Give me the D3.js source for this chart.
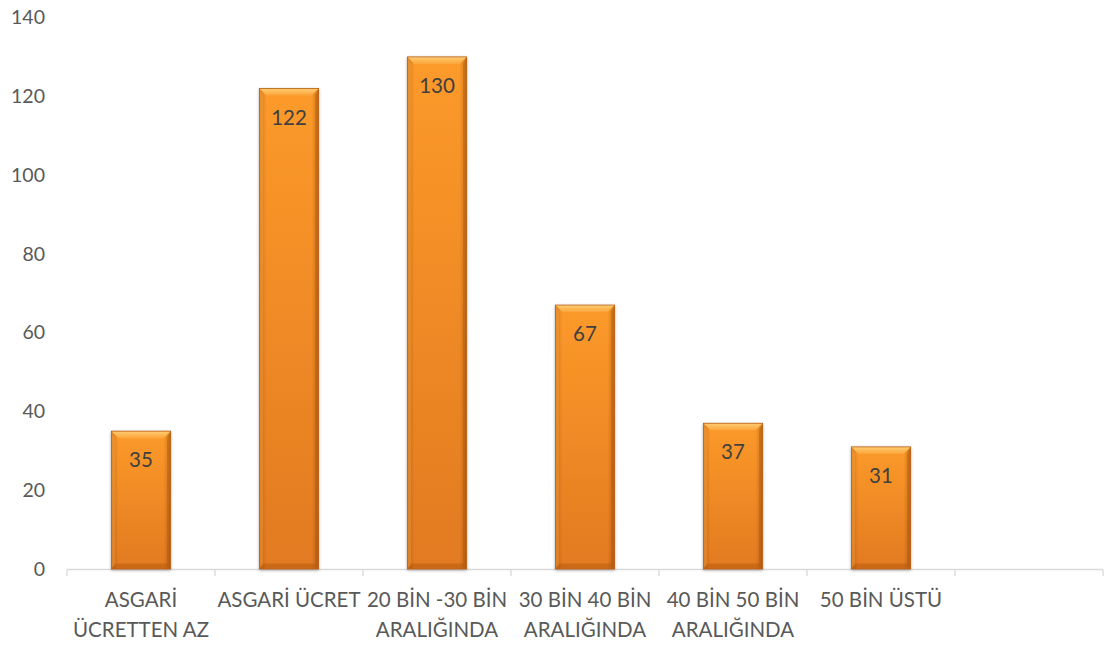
<!DOCTYPE html>
<html><head><meta charset="utf-8">
<script src="https://cdn.jsdelivr.net/npm/d3@7/dist/d3.min.js"></script>
<style>
html,body{margin:0;padding:0;background:#fff;}
svg{display:block;font-family:Lato,"Open Sans",sans-serif;}
</style></head>
<body>
<svg id="chart" width="1107" height="645"></svg>
<script>
const categories = [
  ["ASGARİ", "ÜCRETTEN AZ"],
  ["ASGARİ ÜCRET"],
  ["20 BİN -30 BİN", "ARALIĞINDA"],
  ["30 BİN 40 BİN", "ARALIĞINDA"],
  ["40 BİN 50 BİN", "ARALIĞINDA"],
  ["50 BİN ÜSTÜ"],
  [""]
];
const values = [35, 122, 130, 67, 37, 31, null];
const yTicks = [0, 20, 40, 60, 80, 100, 120, 140];

const svg = d3.select("#chart");
const x = d3.scaleBand().domain(d3.range(categories.length)).range([67, 1103]).padding(0);
const y = d3.scaleLinear().domain([0, 140]).range([569, 17.5]);

const defs = svg.append("defs");
const vg = defs.append("linearGradient").attr("id","vg").attr("x1",0).attr("y1",0).attr("x2",0).attr("y2",1);
vg.append("stop").attr("offset","0%").attr("stop-color","#FC9A2A");
vg.append("stop").attr("offset","100%").attr("stop-color","#E27A21");
const hg = defs.append("linearGradient").attr("id","hg").attr("x1",0).attr("y1",0).attr("x2",1).attr("y2",0);
hg.append("stop").attr("offset","0%").attr("stop-color","#8a3d00").attr("stop-opacity",0.35);
hg.append("stop").attr("offset","12%").attr("stop-color","#8a3d00").attr("stop-opacity",0.0);
hg.append("stop").attr("offset","88%").attr("stop-color","#8a3d00").attr("stop-opacity",0.0);
hg.append("stop").attr("offset","100%").attr("stop-color","#8a3d00").attr("stop-opacity",0.4);
const tg = defs.append("linearGradient").attr("id","tg").attr("x1",0).attr("y1",0).attr("x2",0).attr("y2",1);
tg.append("stop").attr("offset","0%").attr("stop-color","#FFCD72");
tg.append("stop").attr("offset","100%").attr("stop-color","#FCA53A");
const f = defs.append("filter").attr("id","sh").attr("x","-20%").attr("y","-5%").attr("width","140%").attr("height","110%");
f.append("feGaussianBlur").attr("in","SourceAlpha").attr("stdDeviation",1.5).attr("result","b");
f.append("feOffset").attr("in","b").attr("dx",0).attr("dy",1).attr("result","o");
f.append("feComponentTransfer").attr("in","o").attr("result","o2").append("feFuncA").attr("type","linear").attr("slope",0.35);
const m = f.append("feMerge"); m.append("feMergeNode").attr("in","o2"); m.append("feMergeNode").attr("in","SourceGraphic");

// axis line & ticks
const axisG = svg.append("g");
axisG.append("line").attr("x1",67).attr("x2",1103).attr("y1",569.5).attr("y2",569.5).attr("stroke","#D9D9D9").attr("stroke-width",1.3);
const tickXs = d3.range(categories.length + 1).map(i => i < categories.length ? x(i) : x(categories.length-1) + x.bandwidth());
axisG.selectAll("line.t").data(tickXs).join("line").attr("class","t")
  .attr("x1",d=>d).attr("x2",d=>d).attr("y1",569.5).attr("y2",576).attr("stroke","#D9D9D9").attr("stroke-width",1.3);

// y tick labels
svg.append("g").selectAll("text").data(yTicks).join("text")
  .attr("x",45).attr("y",d=>y(d)).attr("dy","0.35em").attr("text-anchor","end")
  .attr("fill","#595959").attr("font-size",19.5).text(d=>d);

// bars
const bw = x.bandwidth()*0.4;
const b = 7;
const barsData = values.map((v,i)=>({v,i})).filter(d=>d.v!=null);
const bars = svg.append("g").selectAll("g").data(barsData).join("g").attr("filter","url(#sh)");
bars.each(function(d){
  const g = d3.select(this);
  const x0 = x(d.i) + (x.bandwidth()-bw)/2, x1 = x0 + bw;
  const y0 = y(d.v), y1 = y(0);
  g.append("rect").attr("x",x0).attr("y",y0).attr("width",bw).attr("height",y1-y0).attr("fill","url(#vg)");
  g.append("rect").attr("x",x0).attr("y",y0).attr("width",bw).attr("height",y1-y0).attr("fill","url(#hg)");
  g.append("polygon").attr("points",[[x0,y0],[x1,y0],[x1-b,y0+b],[x0+b,y0+b]].join(" ")).attr("fill","url(#tg)");
  g.append("polygon").attr("points",[[x0,y0],[x0+b*0.5,y0+b],[x0+b*0.5,y1-b*0.6],[x0,y1]].join(" ")).attr("fill","#FFB04A").attr("opacity",0.35);
  g.append("polygon").attr("points",[[x1,y0],[x1-b*0.5,y0+b],[x1-b*0.5,y1-b*0.6],[x1,y1]].join(" ")).attr("fill","#9a4a08").attr("opacity",0.3);
  g.append("polygon").attr("points",[[x0,y1],[x1,y1],[x1-b*0.5,y1-b*0.8],[x0+b*0.5,y1-b*0.8]].join(" ")).attr("fill","#a04e0a").attr("opacity",0.35);
  g.append("rect").attr("x",x0).attr("y",y0).attr("width",bw).attr("height",y1-y0).attr("fill","none").attr("stroke","#B8621A").attr("stroke-width",0.8);
});

// data labels
svg.append("g").selectAll("text").data(barsData).join("text")
  .attr("x",d=>x(d.i)+x.bandwidth()/2).attr("y",d=>y(d.v)+29).attr("dy","0.35em")
  .attr("text-anchor","middle").attr("fill","#404040").attr("font-size",20.5).text(d=>d.v);

// category labels
const cl = svg.append("g").selectAll("text").data(categories.map((c,i)=>({c,i}))).join("text")
  .attr("x",d=>x(d.i)+x.bandwidth()/2).attr("y",600).attr("text-anchor","middle")
  .attr("fill","#595959").attr("font-size",20.5);
cl.selectAll("tspan").data(d=>d.c.map((t,k)=>({t,k,cx:x(d.i)+x.bandwidth()/2}))).join("tspan")
  .attr("x",d=>d.cx).attr("y",d=>600+d.k*30).attr("dy","0.35em").text(d=>d.t);
</script>
</body></html>
